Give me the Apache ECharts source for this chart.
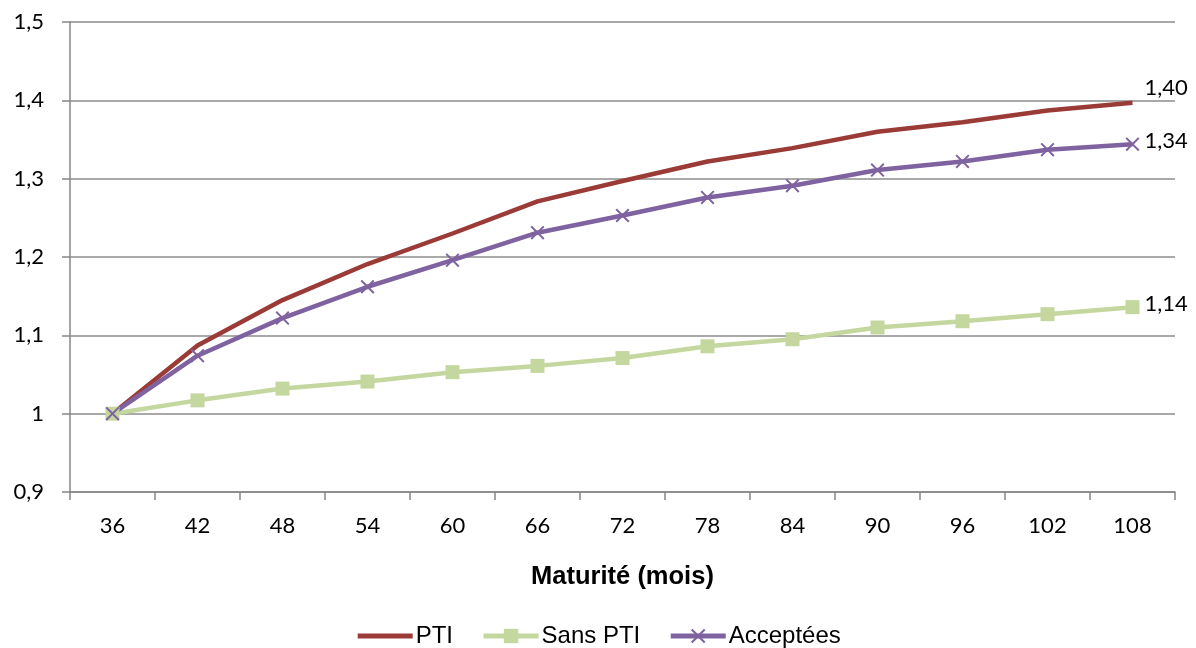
<!DOCTYPE html>
<html><head><meta charset="utf-8">
<script src="https://cdn.jsdelivr.net/npm/echarts@6/dist/echarts.min.js"></script>
<style>html,body{margin:0;padding:0;background:#fff}#c{width:1196px;height:648px}</style>
</head><body><div id="c"></div>
<script>
const categories = ['36','42','48','54','60','66','72','78','84','90','96','102','108'];
const pti = [1.000,1.087,1.145,1.191,1.230,1.271,1.297,1.322,1.339,1.360,1.372,1.387,1.397];
const sansPti = [1.000,1.017,1.032,1.041,1.053,1.061,1.071,1.086,1.095,1.110,1.118,1.127,1.136];
const acceptees = [1.000,1.074,1.122,1.162,1.196,1.231,1.253,1.276,1.291,1.311,1.322,1.337,1.344];
const seriesNames = ['PTI','Sans PTI','Acceptées'];
const xTitle = 'Maturité (mois)';

const font = 'Lato, "Open Sans", sans-serif';
const arial = '"Liberation Sans", Arial, sans-serif';
const fmt = v => String(Math.round(v*10)/10).replace('.', ',');
const endLabel = dy => ({
  show: true, distance: 12, offset: [0, dy],
  formatter: p => Number(p.value).toFixed(2).replace('.', ','),
  fontFamily: font, fontSize: 22, color: '#000'
});
const cross = 'path://M0,1L1,0L5,4L9,0L10,1L6,5L10,9L9,10L5,6L1,10L0,9L4,5Z';

const chart = echarts.init(document.getElementById('c'), null, {renderer: 'canvas'});
chart.setOption({
  animation: false,
  grid: {left: 70, right: 21, top: 22, bottom: 156, containLabel: false},
  legend: {
    top: 619, left: 'center', itemWidth: 55, itemHeight: 18, itemGap: 28,
    lineStyle: {width: 5},
    textStyle: {fontFamily: arial, fontSize: 24, color: '#000', padding: [0, 0, 0, -2]},
    data: [
      {name: seriesNames[0], itemStyle: {opacity: 0}},
      {name: seriesNames[1]},
      {name: seriesNames[2]}
    ]
  },
  xAxis: {
    type: 'category', data: categories, boundaryGap: true,
    name: xTitle, nameLocation: 'middle', nameGap: 72,
    nameTextStyle: {fontFamily: arial, fontSize: 25.5, fontWeight: 'bold', color: '#000'},
    axisLine: {lineStyle: {color: '#868686', width: 1.5}},
    axisTick: {show: true, length: 8, lineStyle: {color: '#868686', width: 1.5}},
    axisLabel: {fontFamily: font, fontSize: 22, color: '#000', margin: 23},
    splitLine: {show: false}
  },
  yAxis: {
    type: 'value', min: 0.9, max: 1.5, interval: 0.1,
    axisLine: {show: true, lineStyle: {color: '#868686', width: 1.5}},
    axisTick: {show: true, length: 8, lineStyle: {color: '#868686', width: 1.5}},
    axisLabel: {fontFamily: font, fontSize: 22, color: '#000', margin: 26, formatter: fmt},
    splitLine: {show: true, lineStyle: {color: '#8c8c8c', width: 1.5}}
  },
  series: [
    {name: seriesNames[0], type: 'line', data: pti, symbol: 'none',
     endLabel: endLabel(-15),
     lineStyle: {color: '#9b3b37', width: 4.5}, itemStyle: {color: '#9b3b37'}},
    {name: seriesNames[1], type: 'line', data: sansPti, symbol: 'rect', symbolSize: 14,
     endLabel: endLabel(-3),
     lineStyle: {color: '#c4d79e', width: 4.5}, itemStyle: {color: '#c4d79e'}},
    {name: seriesNames[2], type: 'line', data: acceptees, symbol: cross, symbolSize: 14,
     endLabel: endLabel(-3),
     lineStyle: {color: '#7f62a0', width: 4.5}, itemStyle: {color: '#7f62a0'}}
  ]
});
</script></body></html>
